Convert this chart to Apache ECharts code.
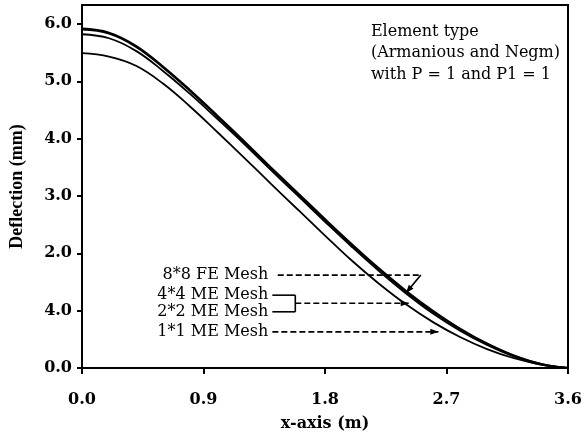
<!DOCTYPE html>
<html><head><meta charset="utf-8">
<script src="https://cdn.jsdelivr.net/npm/echarts@6/dist/echarts.min.js"></script>
<style>html,body{margin:0;padding:0;background:#fff}#c{width:582px;height:437px}</style>
</head><body><div id="c"></div>
<script>
// ---- data ----
const xValues   = [0.0, 0.2, 0.4, 0.6, 0.8, 1.0, 1.2, 1.4, 1.6, 1.8, 2.0, 2.2, 2.4, 2.6, 2.8, 3.0, 3.2, 3.4, 3.6];
const mesh8x8FE = [5.92, 5.85, 5.62, 5.26, 4.85, 4.41, 3.96, 3.50, 3.05, 2.60, 2.16, 1.74, 1.35, 1.00, 0.69, 0.43, 0.22, 0.07, 0.00];
const mesh4x4ME = [5.90, 5.83, 5.60, 5.24, 4.83, 4.39, 3.94, 3.48, 3.03, 2.58, 2.14, 1.72, 1.33, 0.98, 0.68, 0.42, 0.21, 0.07, 0.00];
const mesh2x2ME = [5.82, 5.75, 5.53, 5.18, 4.78, 4.35, 3.91, 3.45, 3.00, 2.55, 2.11, 1.69, 1.30, 0.95, 0.65, 0.40, 0.20, 0.06, 0.00];
const mesh1x1ME = [5.49, 5.43, 5.27, 4.96, 4.56, 4.12, 3.67, 3.21, 2.76, 2.31, 1.87, 1.47, 1.11, 0.80, 0.54, 0.33, 0.17, 0.06, 0.00];
const seriesNames = ['8*8 FE Mesh', '4*4 ME Mesh', '2*2 ME Mesh', '1*1 ME Mesh'];
const xTickValues = [0, 0.9, 1.8, 2.7, 3.6];
const xTickLabels = ['0.0', '0.9', '1.8', '2.7', '3.6'];
const yTickValues = [0, 1, 2, 3, 4, 5, 6];
const yTickLabels = ['0.0', '4.0', '2.0', '3.0', '4.0', '5.0', '6.0'];
const noteLines = ['Element type', '(Armanious and Negm)', 'with P = 1 and P1 = 1'];
const xName = 'x-axis (m)';
const yName = 'Deflection (mm)';

// ---- chart ----
const seriesValues = [mesh8x8FE, mesh4x4ME, mesh2x2ME, mesh1x1ME];
const chart = echarts.init(document.getElementById('c'), null, {renderer: 'canvas'});
const tickFont = {fontFamily: 'DejaVu Serif', fontWeight: 'bold', fontSize: 16, color: '#000'};
const lookup = (vals, labels) => v => {
  const i = vals.findIndex(t => Math.abs(t - v) < 1e-6);
  return i >= 0 ? labels[i] : '';
};

chart.setOption({
  animation: false,
  backgroundColor: '#fff',
  grid: {left: 82, right: 14, top: 5, bottom: 69, show: true, borderColor: '#000', borderWidth: 2, outerBoundsMode: 'none', containLabel: false},
  xAxis: {
    type: 'value', min: 0, max: 3.6, interval: 0.9,
    name: xName, nameLocation: 'middle', nameGap: 48,
    nameTextStyle: {fontFamily: 'DejaVu Serif', fontWeight: 'bold', fontSize: 16, color: '#000'},
    axisLine: {show: true, onZero: false, lineStyle: {color: '#000', width: 2}},
    axisTick: {show: true, inside: false, length: 6, lineStyle: {color: '#000', width: 2}, customValues: xTickValues},
    axisLabel: Object.assign({margin: 24, customValues: xTickValues, formatter: lookup(xTickValues, xTickLabels)}, tickFont),
    splitLine: {show: false}
  },
  yAxis: {
    type: 'value', min: 0, max: 6.33, interval: 1,
    name: yName, nameLocation: 'middle', nameGap: 56, nameRotate: 90,
    nameTextStyle: {fontFamily: 'Liberation Serif', fontWeight: 'bold', fontSize: 18, color: '#000'},
    axisLine: {show: true, onZero: false, lineStyle: {color: '#000', width: 2}},
    axisTick: {show: true, inside: false, length: 5, lineStyle: {color: '#000', width: 2}, customValues: yTickValues},
    axisLabel: Object.assign({margin: 10, customValues: yTickValues, formatter: lookup(yTickValues, yTickLabels)}, tickFont),
    splitLine: {show: false}
  },
  series: seriesNames.map((name, k) => ({
    name: name, type: 'line', smooth: 0.4, symbol: 'none',
    data: xValues.map((x, i) => [x, seriesValues[k][i]]),
    lineStyle: {color: '#000', width: 1.8},
    z: 3
  }))
});

// ---- annotations (placed in data coordinates) ----
const P = (x, y) => chart.convertToPixel({gridIndex: 0}, [x, y]);
const g = [];
const textStyleN = {fontFamily: 'DejaVu Serif', fontSize: 16, fill: '#000'};
function txt(x, y, s, align) {
  const p = P(x, y);
  g.push({type: 'text', x: p[0], y: p[1], style: Object.assign({text: s, textAlign: align, textVerticalAlign: 'middle'}, textStyleN), z: 10});
}
function seg(a, b, dashed) {
  const p = P(a[0], a[1]), q = P(b[0], b[1]);
  g.push({type: 'line', shape: {x1: p[0], y1: p[1], x2: q[0], y2: q[1]},
    style: {stroke: '#000', lineWidth: 1.6, lineDash: dashed ? [6, 3] : null}, z: 10});
}
function head(from, to) {
  const p = P(from[0], from[1]), q = P(to[0], to[1]);
  const dx = q[0] - p[0], dy = q[1] - p[1], L = Math.hypot(dx, dy);
  const ux = dx / L, uy = dy / L, len = 8, hw = 3;
  const bx = q[0] - ux * len, by = q[1] - uy * len;
  g.push({type: 'polygon', shape: {points: [[q[0], q[1]], [bx - uy * hw, by + ux * hw], [bx + uy * hw, by - ux * hw]]},
    style: {fill: '#000'}, z: 10});
}
const labelY = [1.62, 1.27, 0.98, 0.63];
seriesNames.forEach((s, i) => txt(1.38, labelY[i], s, 'right'));
// 8*8 FE
seg([1.45, 1.62], [2.51, 1.62], true);
seg([2.51, 1.62], [2.40, 1.31], false);
head([2.51, 1.62], [2.40, 1.31]);
// 4*4 / 2*2 bracket
seg([1.41, 1.27], [1.58, 1.27], false);
seg([1.58, 1.27], [1.58, 0.98], false);
seg([1.41, 0.98], [1.58, 0.98], false);
seg([1.58, 1.13], [2.42, 1.13], true);
head([1.58, 1.13], [2.42, 1.13]);
// 1*1 ME
seg([1.41, 0.63], [2.64, 0.63], true);
head([1.41, 0.63], [2.64, 0.63]);
// note in the upper right
const noteY = [5.86, 5.49, 5.11];
noteLines.forEach((s, i) => txt(2.14, noteY[i], s, 'left'));

chart.setOption({graphic: {elements: g}});
</script>
</body></html>
